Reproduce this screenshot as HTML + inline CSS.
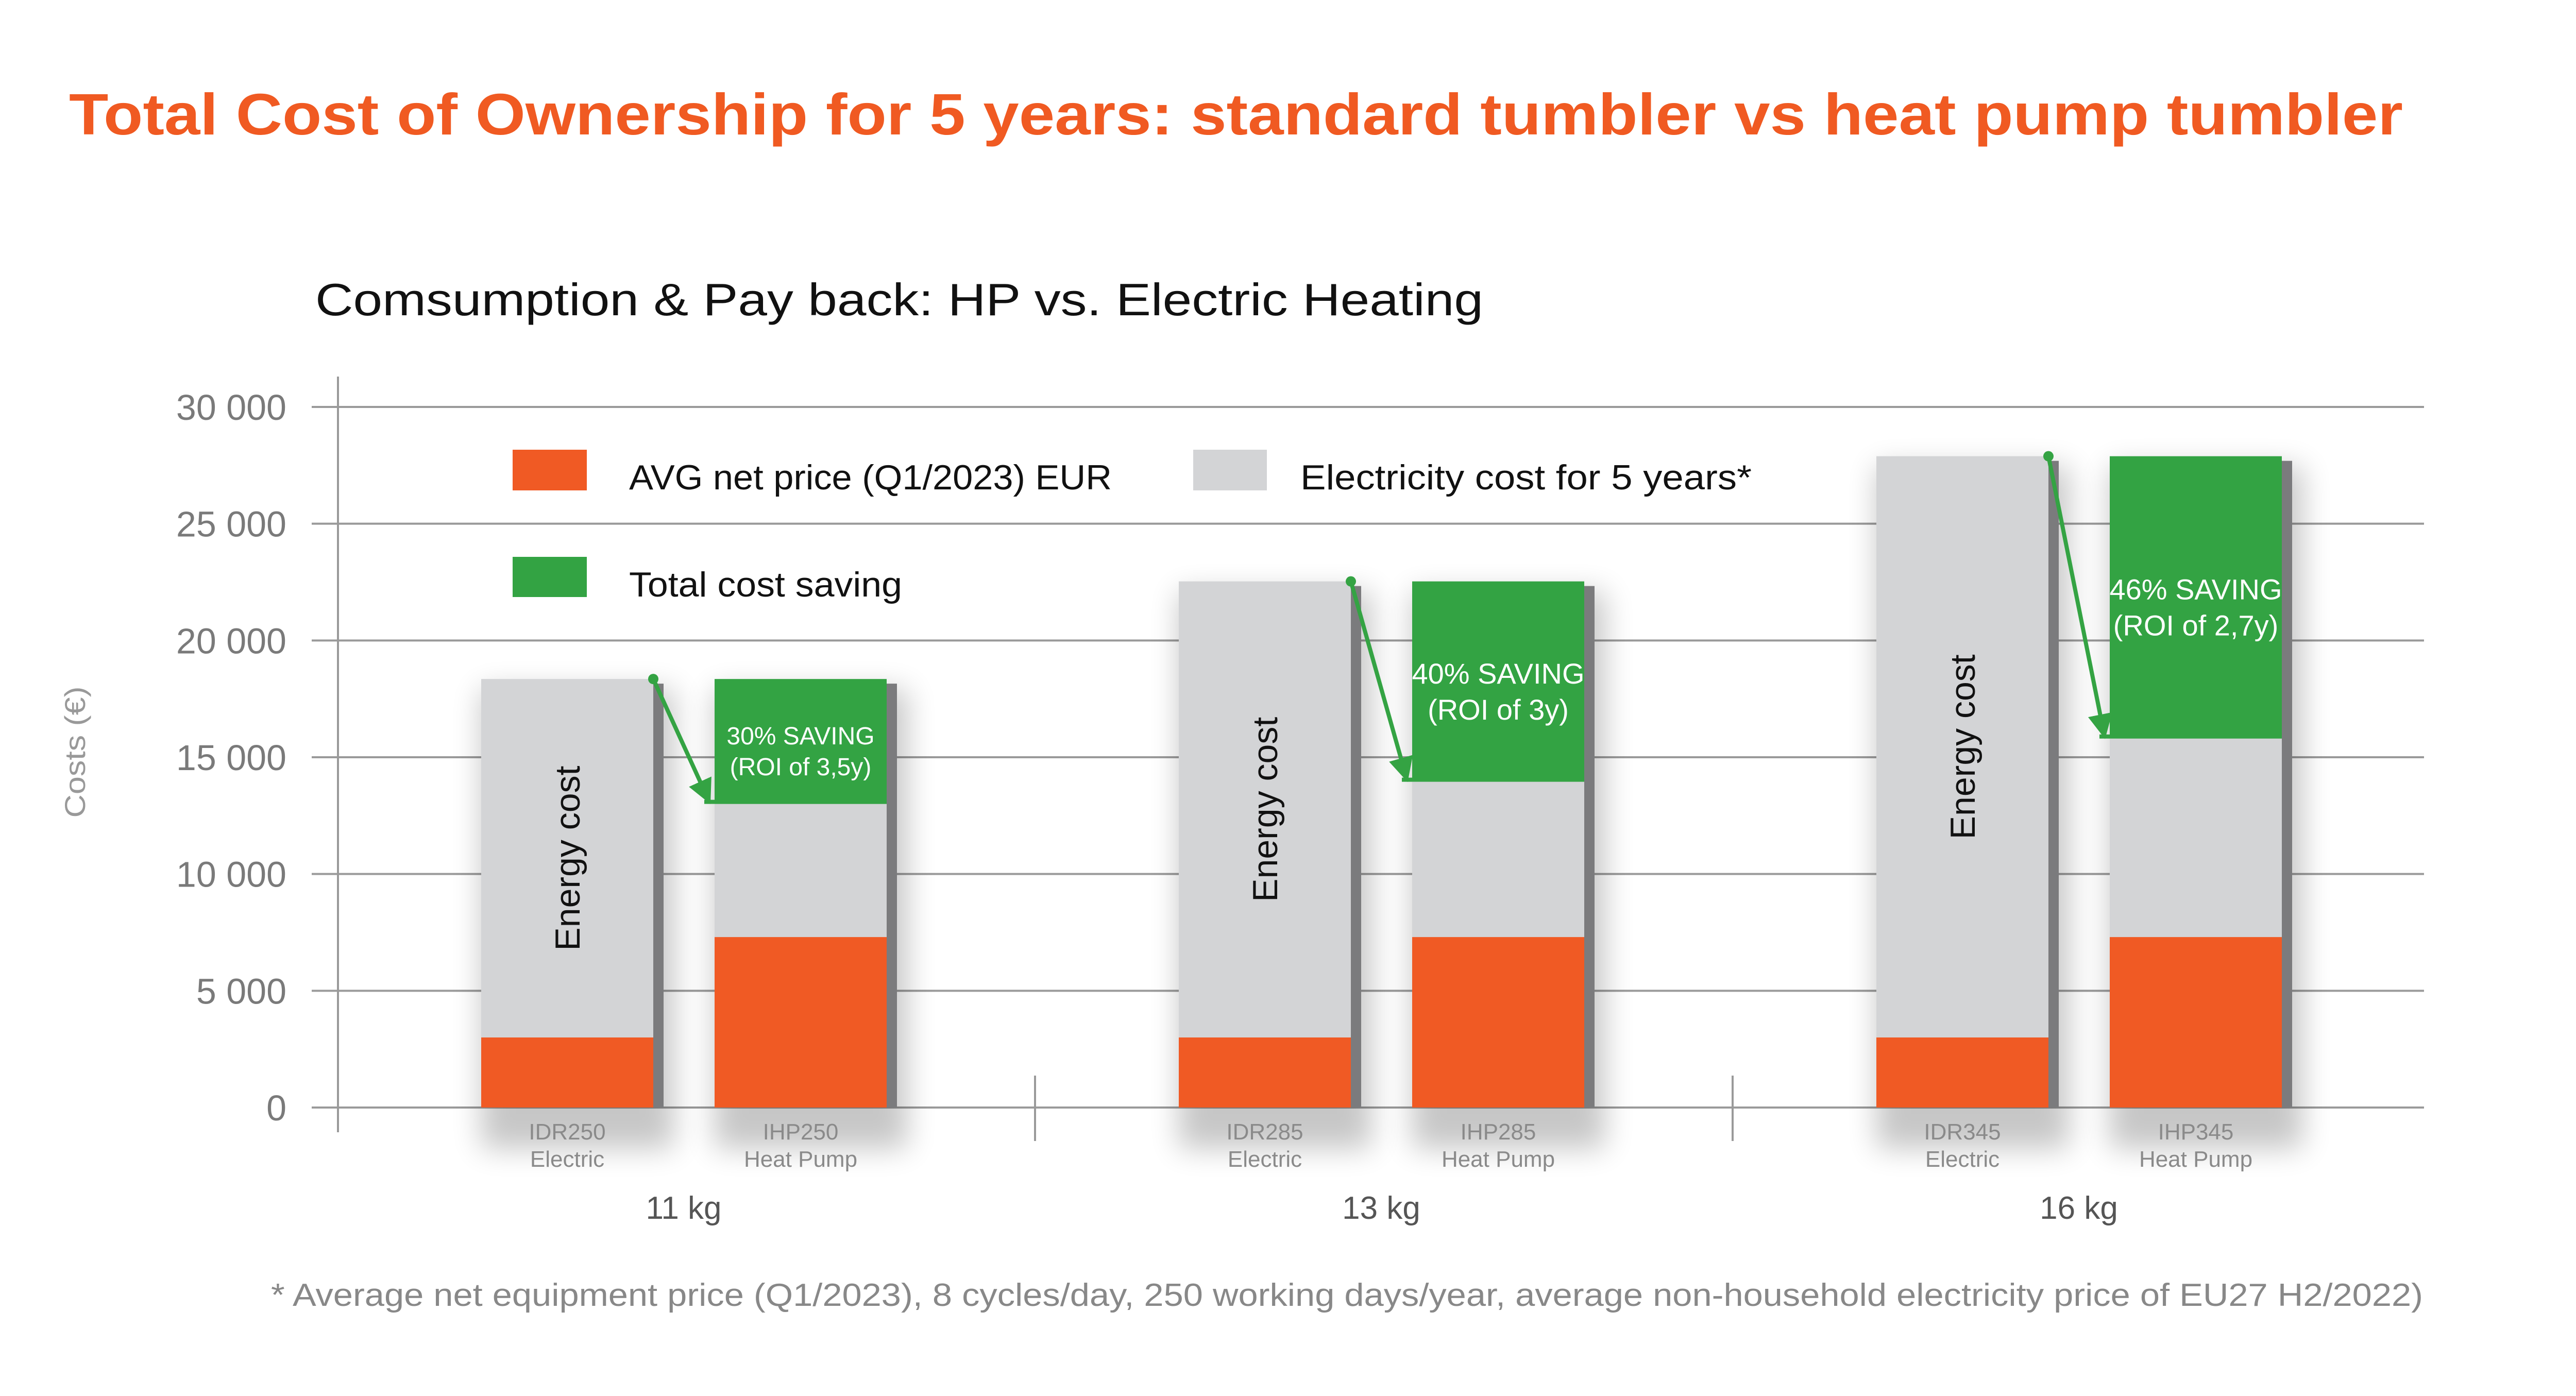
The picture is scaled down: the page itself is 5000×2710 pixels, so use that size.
<!DOCTYPE html>
<html><head><meta charset="utf-8"><style>
html,body{margin:0;padding:0;background:#fff;}
svg{display:block;font-family:"Liberation Sans",sans-serif;}
</style></head><body>
<svg id="chart" width="5000" height="2710" viewBox="0 0 5000 2710" xmlns="http://www.w3.org/2000/svg">
<defs>
<filter id="blur" x="-50%" y="-20%" width="200%" height="140%"><feGaussianBlur stdDeviation="28"/></filter>
<marker id="ah" viewBox="0 0 10 10" refX="9" refY="5" markerWidth="6" markerHeight="6" orient="auto"><path d="M0,0 L10,5 L0,10 z" fill="#34a343"/></marker>
</defs>
<text x="134" y="261" font-size="113" font-weight="bold" fill="#f05a22" textLength="4530" lengthAdjust="spacingAndGlyphs">Total Cost of Ownership for 5 years: standard tumbler vs heat pump tumbler</text>
<text x="612" y="612" font-size="88" fill="#111" textLength="2267" lengthAdjust="spacingAndGlyphs">Comsumption &amp; Pay back: HP vs. Electric Heating</text>
<g id="grid"></g>
<g id="shadows"></g>
<g id="bars"></g>
<g id="labels"></g>
<text transform="translate(165,1460) rotate(-90)" text-anchor="middle" font-size="56" fill="#999" textLength="255" lengthAdjust="spacingAndGlyphs">Costs (€)</text>
<g>
<rect x="995" y="873" width="144" height="79" fill="#f05a24"/>
<text x="1221" y="950" font-size="68" fill="#111" textLength="937" lengthAdjust="spacingAndGlyphs">AVG net price (Q1/2023) EUR</text>
<rect x="2316" y="873" width="143" height="79" fill="#d3d4d6"/>
<text x="2524" y="950" font-size="68" fill="#111" textLength="876" lengthAdjust="spacingAndGlyphs">Electricity cost for 5 years*</text>
<rect x="995" y="1081" width="144" height="78" fill="#33a343"/>
<text x="1221" y="1158" font-size="68" fill="#111" textLength="530" lengthAdjust="spacingAndGlyphs">Total cost saving</text>
</g>
<text x="526" y="2535" font-size="62" fill="#888" textLength="4177" lengthAdjust="spacingAndGlyphs">* Average net equipment price (Q1/2023), 8 cycles/day, 250 working days/year, average non-household electricity price of EU27 H2/2022)</text>
</svg>
<script>
const groups = ["11 kg", "13 kg", "16 kg"];
const elecModels = ["IDR250", "IDR285", "IDR345"];
const hpModels = ["IHP250", "IHP285", "IHP345"];
const elecPrice = [3000, 3000, 3000];
const elecEnergy = [15350, 19530, 24890];
const hpPrice = [7300, 7300, 7300];
const hpEnergy = [5700, 6650, 8500];
const hpSaving = [5350, 8580, 12090];
const savingPct = ["30% SAVING", "40% SAVING", "46% SAVING"];
const savingRoi = ["(ROI of 3,5y)", "(ROI of 3y)", "(ROI of 2,7y)"];
const yTicks = [0, 5000, 10000, 15000, 20000, 25000, 30000];
const yTickLabels = ["0", "5 000", "10 000", "15 000", "20 000", "25 000", "30 000"];

const NS = "http://www.w3.org/2000/svg";
const Y0 = 2150, YTOP = 790, YMAX = 30000;
const y = v => Y0 - (v / YMAX) * (Y0 - YTOP);
const G0 = 1327, GSTEP = 1354, BW = 334;
const gx = i => G0 + i * GSTEP;
function mk(tag, attrs, parent, txt) {
  const e = document.createElementNS(NS, tag);
  for (const k in attrs) e.setAttribute(k, attrs[k]);
  if (txt !== undefined) e.textContent = txt;
  parent.appendChild(e);
  return e;
}
const grid = document.getElementById('grid');
const shadows = document.getElementById('shadows');
const bars = document.getElementById('bars');
const labels = document.getElementById('labels');

yTicks.forEach((t, i) => {
  const l = mk('line', {x1: 605, x2: 4705, y1: y(t), y2: y(t), stroke: '#9a9a9a', 'stroke-width': 4}, grid);
  
  
  const tx = mk('text', {x: 556, y: y(t) + 25, 'text-anchor': 'end', 'font-size': 70, fill: '#7a7a7a'}, labels, yTickLabels[i]);
  
  
});
const ax = mk('line', {x1: 656, x2: 656, y1: 731, y2: 2198, stroke: '#9a9a9a', 'stroke-width': 4}, grid);


[0, 1].forEach(i => {
  const sx = (gx(i) + gx(i + 1)) / 2 + 5;
  const s = mk('line', {x1: sx, x2: sx, y1: 2088, y2: 2215, stroke: '#9a9a9a', 'stroke-width': 4}, grid);
  
  
});

function stack(x, segs, name) {
  let acc = 0;
  const total = segs.reduce((a, s) => a + s[0], 0);
  const sh = mk('rect', {x: x, y: y(total) + 20, width: BW + 40, height: Y0 - y(total) + 60, fill: '#000', opacity: 0.22, filter: 'url(#blur)'}, shadows);
  
  
  const st = mk('rect', {x: x + BW, y: y(total) + 9, width: 20, height: Y0 - y(total) - 9, fill: '#7b7b7d'}, bars);
  
  
  segs.forEach(s => {
    const r = mk('rect', {x: x, y: y(acc + s[0]), width: BW, height: y(acc) - y(acc + s[0]), fill: s[1]}, bars);
    
    
    acc += s[0];
  });
  return total;
}

groups.forEach((g, i) => {
  const ex = gx(i) - 226 - BW / 2, hx = gx(i) + 227 - BW / 2;
  const eTot = stack(ex, [[elecPrice[i], '#f05a24', 'price'], [elecEnergy[i], '#d3d4d6', 'energy']], 'bar-' + elecModels[i].toLowerCase());
  stack(hx, [[hpPrice[i], '#f05a24', 'price'], [hpEnergy[i], '#d3d4d6', 'energy'], [hpSaving[i], '#33a343', 'saving']], 'bar-' + hpModels[i].toLowerCase());
  // energy cost vertical label
  const ecY = (y(elecPrice[i]) + y(eTot)) / 2;
  const ec = mk('text', {transform: `translate(${ex + BW / 2 + 24},${ecY}) rotate(-90)`, 'text-anchor': 'middle', 'font-size': 68, fill: '#111'}, labels, 'Energy cost');
  
  
  // saving text
  const gTop = y(hpPrice[i] + hpEnergy[i] + hpSaving[i]), gBot = y(hpPrice[i] + hpEnergy[i]);
  const fs = i === 0 ? 48 : 56;
  const cy = (gTop + gBot) / 2 + 15;
  const t1 = mk('text', {x: hx + BW / 2, y: cy - fs * 0.2, 'text-anchor': 'middle', 'font-size': fs, fill: '#fff'}, labels, savingPct[i]);
  
  
  const t2 = mk('text', {x: hx + BW / 2, y: cy + fs * 1.05, 'text-anchor': 'middle', 'font-size': fs, fill: '#fff'}, labels, savingRoi[i]);
  
  
  // arrow
  const ax1 = ex + BW, ay1 = y(eTot);
  const dot = mk('circle', {cx: ax1, cy: ay1, r: 10, fill: '#34a343'}, labels);
  
  
  const ar = mk('line', {x1: ax1, y1: ay1, x2: hx - 10, y2: gBot - 4, stroke: '#34a343', 'stroke-width': 8, 'marker-end': 'url(#ah)'}, labels);
  
  
  const tk = mk('line', {x1: hx - 20, x2: hx, y1: gBot - 4, y2: gBot - 4, stroke: '#34a343', 'stroke-width': 8}, labels);
  
  
  // x labels
  [[ex, elecModels[i], 'Electric'], [hx, hpModels[i], 'Heat Pump']].forEach(p => {
    const a = mk('text', {x: p[0] + BW / 2, y: 2212, 'text-anchor': 'middle', 'font-size': 44, fill: '#8a8a8a'}, labels, p[1]);
    
    
    const b = mk('text', {x: p[0] + BW / 2, y: 2265, 'text-anchor': 'middle', 'font-size': 44, fill: '#8a8a8a'}, labels, p[2]);
    
    
  });
  const gl = mk('text', {x: gx(i), y: 2366, 'text-anchor': 'middle', 'font-size': 62, fill: '#555'}, labels, g);
  
  
});
</script>
</body></html>
